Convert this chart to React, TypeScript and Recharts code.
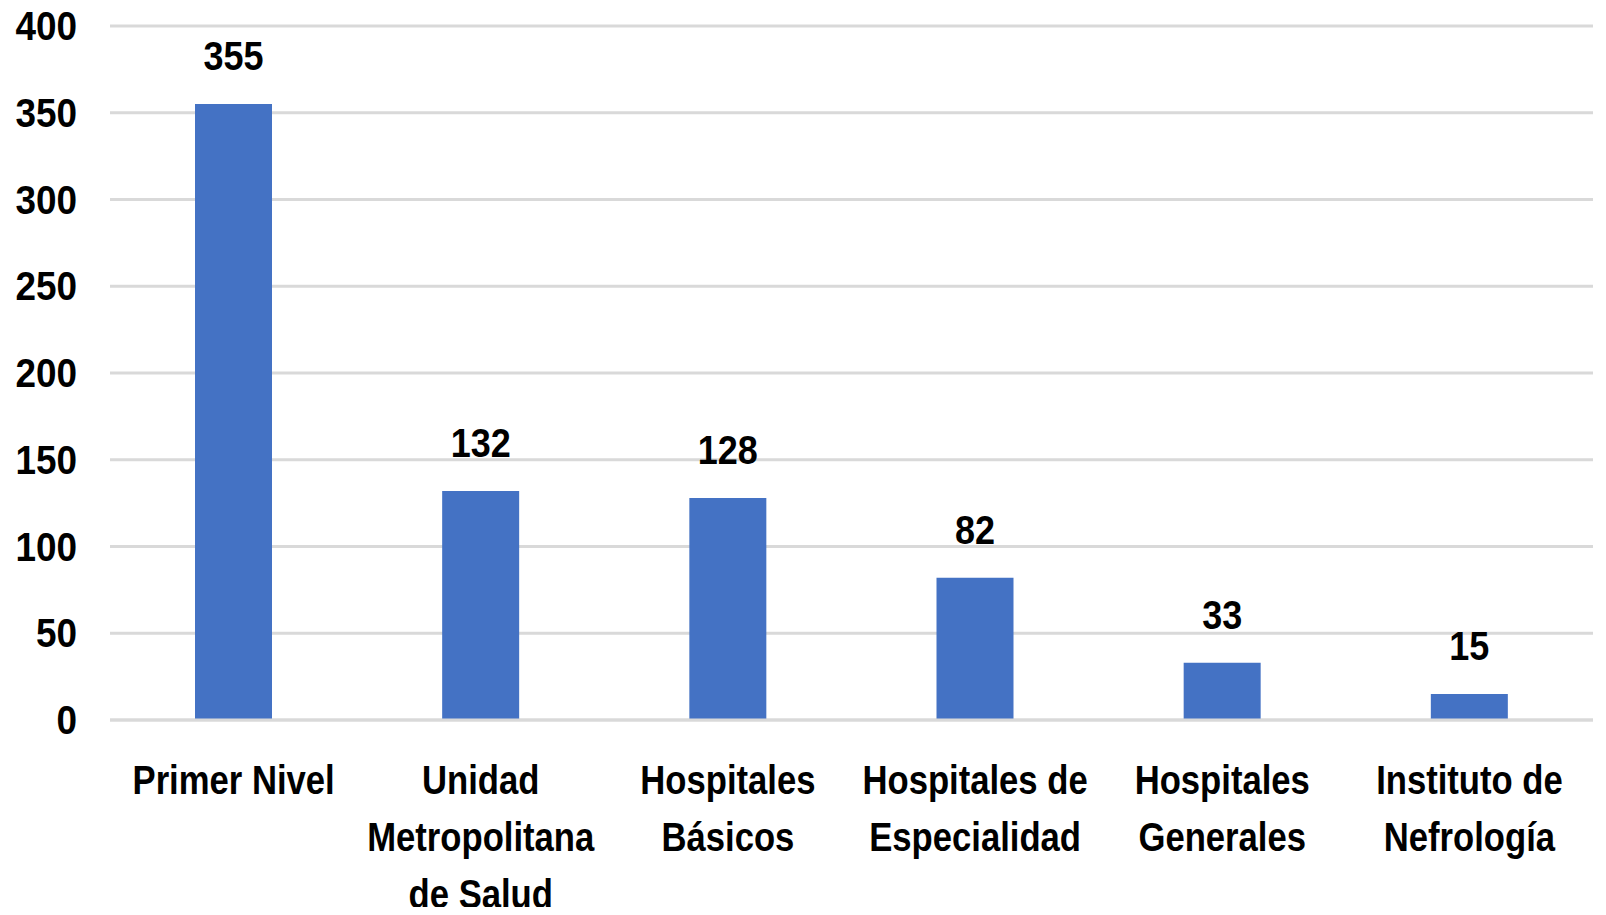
import React from 'react';
import { BarChart, Bar, XAxis, YAxis, CartesianGrid, LabelList } from 'recharts';

const categories = [
  'Primer Nivel',
  'Unidad\nMetropolitana\nde Salud',
  'Hospitales\nBásicos',
  'Hospitales de\nEspecialidad',
  'Hospitales\nGenerales',
  'Instituto de\nNefrología',
];
const counts = [355, 132, 128, 82, 33, 15];
const yTicks = [0, 50, 100, 150, 200, 250, 300, 350, 400];

const data = categories.map((name, i) => ({ name, value: counts[i] }));

const FONT = "'Liberation Sans', Arial, sans-serif";
// squeeze glyphs so they look like the condensed original
const NARROW_TEXT = 0.845;
const NARROW_DIGITS = 0.9;

const CategoryTick = (props: any) => {
  const { x, y, payload } = props;
  const lines = String(payload.value).split('\n');
  return (
    <text
      transform={`translate(${x},${y}) scale(${NARROW_TEXT},1)`}
      textAnchor="middle"
      fontFamily={FONT}
      fontWeight="bold"
      fontSize={41}
      fill="#000"
    >
      {lines.map((line, i) => (
        <tspan key={i} x={0} dy={i === 0 ? 74 : 57}>
          {line}
        </tspan>
      ))}
    </text>
  );
};

const ValueTick = (props: any) => {
  const { x, y, payload } = props;
  return (
    <text
      transform={`translate(${x},${y + 14}) scale(${NARROW_DIGITS},1)`}
      textAnchor="end"
      fontFamily={FONT}
      fontWeight="bold"
      fontSize={41}
      fill="#000"
    >
      {payload.value}
    </text>
  );
};

const BarLabel = (props: any) => {
  const { x, y, width, value } = props;
  return (
    <text
      transform={`translate(${x + width / 2},${y - 34}) scale(${NARROW_DIGITS},1)`}
      textAnchor="middle"
      fontFamily={FONT}
      fontWeight="bold"
      fontSize={40}
      fill="#000"
    >
      {value}
    </text>
  );
};

const App: React.FC = () => {
  return (
    <div style={{ margin: -8, background: '#fff', width: 1606, height: 915 }}>
      <BarChart
        width={1606}
        height={915}
        data={data}
        margin={{ top: 26, right: 13, bottom: 0, left: 0 }}
      >
        <CartesianGrid vertical={false} stroke="#d9d9d9" strokeWidth={3} />
        <XAxis
          dataKey="name"
          interval={0}
          height={195}
          tickLine={false}
          tickSize={0}
          tickMargin={0}
          axisLine={{ stroke: '#d9d9d9', strokeWidth: 3 }}
          tick={<CategoryTick />}
        />
        <YAxis
          width={110}
          domain={[0, 400]}
          ticks={yTicks}
          axisLine={false}
          tickLine={false}
          tickSize={0}
          tickMargin={33}
          tick={<ValueTick />}
        />
        <Bar dataKey="value" fill="#4472c4" barSize={77} isAnimationActive={false}>
          <LabelList dataKey="value" content={<BarLabel />} />
        </Bar>
      </BarChart>
    </div>
  );
};

export default App;
